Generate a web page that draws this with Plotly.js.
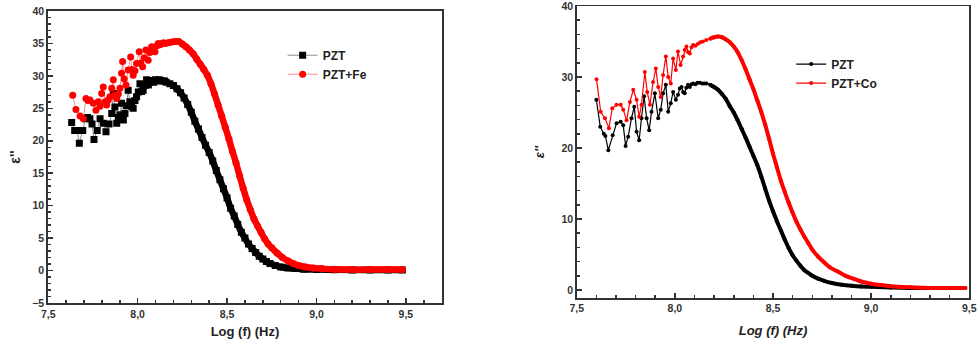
<!DOCTYPE html>
<html>
<head>
<meta charset="utf-8">
<script src="https://cdn.plot.ly/plotly-3.0.1.min.js"></script>
<style>html,body{margin:0;padding:0;background:#fff;}#chart{width:978px;height:354px;}</style>
</head>
<body>
<div id="chart"></div>
<script>
// ---- Left panel: PZT vs PZT+Fe ----
const leftX_PZT = [7.631,7.648,7.662,7.674,7.693,7.708,7.720,7.733,7.745,7.756,7.774,7.790,7.808,7.823,7.840,7.855,7.864,7.873,7.883,7.892,7.901,7.910,7.920,7.929,7.938,7.947,7.957,7.966,7.975,7.985,7.994,8.004,8.013,8.022,8.031,8.040,8.050,8.060,8.070,8.080,8.090,8.100,8.110,8.120,8.130,8.140,8.150,8.160,
  8.18,8.20,8.22,8.24,8.26,8.28,8.30,8.32,8.34,8.36,8.38,8.40,8.42,8.44,8.46,8.48,8.50,8.52,8.54,8.56,8.58,8.60,8.62,8.64,8.66,8.68,8.70,8.72,8.74,8.77,8.80,8.84,8.88,8.93,9.00,9.10,9.20,9.30,9.40,9.48];
const leftY_PZT = [22.8,21.6,21.6,19.6,21.6,23.4,23.6,23.4,22.6,20.2,21.6,23.4,22.7,21.4,22.6,24.2,27.3,25.2,22.7,23.6,24.0,25.8,23.2,24.2,25.4,27.8,26.0,25.3,25.0,26.2,26.8,27.5,28.8,27.6,27.8,28.5,29.4,28.6,29.0,29.3,29.0,29.4,29.2,29.4,29.3,29.2,29.2,29.0,
  28.8,28.5,28.0,27.4,26.6,25.6,24.4,23.0,21.8,20.5,19.3,18.2,16.9,15.4,14.0,12.6,11.2,9.6,8.4,7.1,5.9,5.0,4.1,3.4,2.8,2.2,1.8,1.4,1.1,0.8,0.55,0.4,0.3,0.2,0.15,0.12,0.1,0.1,0.1,0.1];
const leftX_Fe = [7.637,7.655,7.678,7.696,7.711,7.722,7.733,7.752,7.767,7.780,7.790,7.799,7.808,7.818,7.827,7.836,7.845,7.855,7.864,7.873,7.883,7.892,7.901,7.910,7.916,7.925,7.935,7.947,7.961,7.968,7.975,7.985,7.994,8.009,8.018,8.028,8.037,8.046,8.059,8.068,8.078,8.087,8.097,8.106,8.115,8.125,8.135,8.145,8.155,
  8.17,8.19,8.21,8.23,8.25,8.27,8.29,8.31,8.33,8.35,8.37,8.39,8.41,8.43,8.45,8.47,8.49,8.51,8.53,8.55,8.57,8.59,8.61,8.63,8.65,8.67,8.69,8.71,8.73,8.75,8.78,8.81,8.84,8.87,8.90,8.94,8.98,9.03,9.10,9.20,9.30,9.40,9.48];
const leftY_Fe = [27.0,24.8,23.8,23.4,26.5,26.2,26.3,25.8,24.7,26.0,25.3,27.3,28.3,26.0,25.5,26.3,26.8,28.1,29.4,27.0,26.5,27.2,28.1,30.4,32.2,29.5,28.6,30.9,32.9,31.0,30.1,30.8,31.9,33.7,32.0,31.4,32.8,34.0,32.4,33.6,34.5,33.8,33.7,34.6,35.0,34.8,35.0,35.1,35.0,
  35.1,35.2,35.3,35.3,34.9,34.5,34.0,33.4,32.6,31.8,31.0,30.1,28.8,27.2,25.5,23.8,22.1,20.3,18.4,16.6,14.6,12.7,10.9,9.4,8.0,6.9,5.9,4.9,4.1,3.5,2.7,2.0,1.5,1.1,0.8,0.55,0.4,0.3,0.2,0.15,0.15,0.15,0.15];

// ---- Right panel: PZT vs PZT+Co ----
const rightX_PZT = [7.600,7.620,7.638,7.646,7.661,7.683,7.703,7.724,7.737,7.749,7.762,7.779,7.793,7.805,7.818,7.830,7.843,7.856,7.869,7.881,7.898,7.915,7.928,7.940,7.954,7.966,7.979,7.991,8.005,8.016,8.025,8.034,8.042,8.050,8.058,8.067,8.076,8.085,8.093,8.105,8.115,8.127,8.140,8.150,8.161,
  8.18,8.20,8.22,8.24,8.26,8.28,8.30,8.32,8.34,8.36,8.38,8.40,8.42,8.44,8.46,8.48,8.50,8.52,8.54,8.56,8.58,8.60,8.62,8.64,8.66,8.68,8.70,8.73,8.76,8.80,8.85,8.90,8.95,9.00,9.10,9.20,9.30,9.40,9.48];
const rightY_PZT = [26.8,23.0,22.0,21.7,19.7,21.8,23.5,23.7,23.2,20.3,21.6,24.2,25.8,22.3,21.1,24.2,27.3,24.2,22.5,25.1,27.7,24.2,25.4,27.7,28.9,25.1,26.3,27.9,26.8,27.5,28.4,28.6,27.9,27.7,28.5,28.9,28.6,29.0,29.1,29.0,29.2,29.2,29.1,29.1,29.1,
  28.9,28.6,28.2,27.6,26.9,25.9,25.0,23.9,22.7,21.5,20.2,18.9,17.6,16.0,14.3,12.6,11.1,9.7,8.4,7.1,5.9,4.9,4.1,3.4,2.8,2.4,2.0,1.6,1.3,1.0,0.75,0.6,0.5,0.45,0.35,0.3,0.3,0.3,0.3];
const rightX_Co = [7.601,7.622,7.644,7.664,7.681,7.703,7.724,7.737,7.754,7.771,7.788,7.805,7.818,7.830,7.847,7.859,7.873,7.889,7.903,7.915,7.928,7.940,7.954,7.966,7.979,7.991,8.005,8.016,8.029,8.042,8.050,8.059,8.068,8.076,8.085,8.093,8.105,8.118,8.130,8.143,8.160,
  8.18,8.20,8.22,8.24,8.26,8.28,8.30,8.32,8.34,8.36,8.38,8.40,8.42,8.44,8.46,8.48,8.50,8.52,8.54,8.56,8.58,8.60,8.62,8.64,8.66,8.68,8.70,8.73,8.76,8.79,8.83,8.87,8.91,8.95,9.00,9.05,9.10,9.20,9.30,9.40,9.48];
const rightY_Co = [29.7,25.1,24.2,22.8,25.6,26.1,26.1,25.4,23.9,26.5,28.2,26.8,24.4,26.1,30.7,27.9,26.1,29.3,31.2,28.6,27.2,30.3,32.9,30.0,29.1,32.6,31.0,33.6,31.7,32.9,33.8,34.3,33.5,33.3,34.2,34.5,34.4,34.7,34.9,35.0,35.2,
  35.4,35.6,35.7,35.6,35.3,34.9,34.3,33.5,32.4,31.1,29.7,28.3,26.7,25.1,23.3,21.3,19.2,17.3,15.4,13.8,12.3,10.9,9.6,8.5,7.5,6.6,5.7,4.7,3.9,3.2,2.6,2.0,1.6,1.2,0.9,0.7,0.55,0.4,0.3,0.3,0.3];

const xTickVals = [7.5, 8.0, 8.5, 9.0, 9.5];
const leftYTicks = [-5, 0, 5, 10, 15, 20, 25, 30, 35, 40];
const rightYTicks = [0, 10, 20, 30, 40];

const FONT = 'Liberation Sans, Arial, sans-serif';
const SMOOTH_FROM = 8.165;

function tail(xs, ys) {
  const ox = [], oy = [];
  xs.forEach((v, i) => { if (v >= SMOOTH_FROM) { ox.push(v); oy.push(ys[i]); } });
  return [ox, oy];
}

const traces = [];
// Left
[[leftX_PZT, leftY_PZT, 'PZT', '#000000', 'rgba(0,0,0,0.45)', 'square'],
 [leftX_Fe, leftY_Fe, 'PZT+Fe', '#ff0000', 'rgba(255,0,0,0.45)', 'circle']].forEach(s => {
  const t = tail(s[0], s[1]);
  traces.push({x: t[0], y: t[1], xaxis: 'x', yaxis: 'y', mode: 'lines', showlegend: false, hoverinfo: 'skip',
    line: {color: s[3], width: 6.5, shape: 'spline'}});
  traces.push({x: s[0], y: s[1], xaxis: 'x', yaxis: 'y', mode: 'lines+markers', name: s[2], legend: 'legend',
    line: {color: s[4], width: 1}, marker: {color: s[3], size: 7, symbol: s[5]}});
});
// Right
[[rightX_PZT, rightY_PZT, 'PZT', '#000000'],
 [rightX_Co, rightY_Co, 'PZT+Co', '#ff0000']].forEach(s => {
  const t = tail(s[0], s[1]);
  traces.push({x: t[0], y: t[1], xaxis: 'x2', yaxis: 'y2', mode: 'lines', showlegend: false, hoverinfo: 'skip',
    line: {color: s[3], width: 4, shape: 'spline'}});
  traces.push({x: s[0], y: s[1], xaxis: 'x2', yaxis: 'y2', mode: 'lines+markers', name: s[2], legend: 'legend2',
    line: {color: s[3], width: 1.2}, marker: {color: s[3], size: 4, symbol: 'circle'}});
});

const tickFont = {family: FONT, size: 10.5, color: '#333', weight: 'bold'};
function axisBase(extra) {
  return Object.assign({
    showline: true, mirror: true, linecolor: '#333', showgrid: false, zeroline: false,
    ticks: 'inside', ticklen: 5, tickwidth: 1.5, tickcolor: '#333',
    tickfont: tickFont, automargin: false, ticklabeloverflow: 'allow'
  }, extra);
}

const layout = {
  width: 978, height: 354,
  margin: {l: 0, r: 0, t: 0, b: 0},
  paper_bgcolor: '#fff', plot_bgcolor: '#fff',
  separators: ',.',
  xaxis: axisBase({domain: [0.0493, 0.4516], range: [7.5, 9.7], tickvals: xTickVals, tickformat: '.1f', linewidth: 2,
    minor: {dtick: 0.1, ticks: 'inside', ticklen: 3, tickcolor: '#333'}, anchor: 'y',
    title: {text: 'Log (f) (Hz)', font: {family: FONT, size: 13, color: '#222', weight: 'bold'}, standoff: 8}}),
  yaxis: axisBase({domain: [0.144, 0.969], range: [-5, 40], tickvals: leftYTicks, linewidth: 2,
    minor: {dtick: 1, ticks: 'inside', ticklen: 3, tickcolor: '#333'}, anchor: 'x',
    title: {text: "ε''", font: {family: FONT, size: 14, color: '#222', weight: 'bold'}, standoff: 8}}),
  xaxis2: axisBase({domain: [0.5897, 0.9911], range: [7.5, 9.5], tickvals: xTickVals, tickformat: '.1f', linewidth: 1.5,
    minor: {dtick: 0.1, ticks: 'inside', ticklen: 3, tickcolor: '#333'}, anchor: 'y2',
    title: {text: '<i>Log (f) (Hz)</i>', font: {family: FONT, size: 13, color: '#222', weight: 'bold'}, standoff: 12}}),
  yaxis2: axisBase({domain: [0.158, 0.983], range: [-1.13, 40], tickvals: rightYTicks, linewidth: 1.5,
    minor: {dtick: 2, ticks: 'inside', ticklen: 3, tickcolor: '#333'}, anchor: 'x2',
    title: {text: "<i>ε''</i>", font: {family: FONT, size: 13, color: '#222', weight: 'bold'}, standoff: 14}}),
  legend: {x: 0.289, y: 0.885, xanchor: 'left', yanchor: 'top', bgcolor: 'rgba(0,0,0,0)', itemwidth: 30, tracegroupgap: 0,
    font: {family: FONT, size: 12, color: '#222', weight: 'bold'}},
  legend2: {x: 0.809, y: 0.86, xanchor: 'left', yanchor: 'top', bgcolor: 'rgba(0,0,0,0)', itemwidth: 30, tracegroupgap: 0,
    font: {family: FONT, size: 12, color: '#222', weight: 'bold'}},
  showlegend: true
};

Plotly.newPlot('chart', traces, layout, {displayModeBar: false, staticPlot: true});
</script>
</body>
</html>
